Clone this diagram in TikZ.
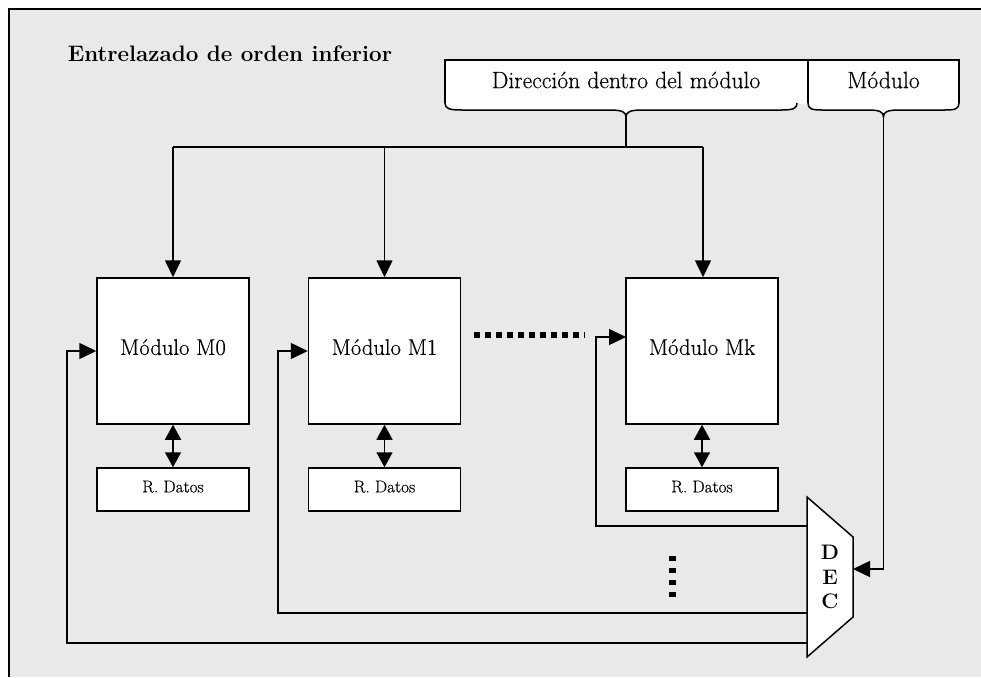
\documentclass[tikz,border=0pt]{standalone}
\usepackage{fontspec}
\usetikzlibrary{arrows.meta,calc}
\definecolor{panel}{HTML}{E9E9E9}
\newfontfamily\plainrm{Latin Modern Roman}[FakeBold=0.35]
\begin{document}
\begin{tikzpicture}[x=1pt,y=-1pt,
  line width=1.5pt,
  arr/.style={-{Triangle[length=17pt,width=16pt]}},
  dbl/.style={{Triangle[length=15pt,width=16pt]}-{Triangle[length=15pt,width=16pt]}},
  modbox/.style={draw,fill=white,minimum width=152pt,minimum height=146pt,inner sep=0pt,
    text depth=8pt,font=\plainrm\fontsize{22.6}{27}\selectfont},
  regbox/.style={draw,fill=white,minimum width=152pt,minimum height=43pt,inner sep=0pt,
    text depth=6pt,font=\plainrm\fontsize{17.2}{20}\selectfont},
  lbl/.style={inner sep=0pt,font=\plainrm\fontsize{23.6}{28}\selectfont},
  sq/.style={line width=6pt,dash pattern=on 6pt off 5pt}]
\useasboundingbox (0,0) rectangle (981,677);
% panel
\fill[white] (0,0) rectangle (981,677);
\fill[panel] (9,9) rectangle (981,677);
\draw[line width=1.3pt] (9,677) -- (9,9) -- (981,9);

% title
\node[anchor=west,inner sep=0pt,font=\fontsize{22.4}{26}\selectfont\bfseries] (title) at (67,54) {Entrelazado de orden inferior};

% address fields with braces
\coordinate (tipA) at (626,117);
\coordinate (tipB) at (883.5,117);
\fill[white] (445,60) rectangle (959,104);
\fill[white] (445,103) .. controls (445,109) and (450,110) .. (462,110) -- (610,110)
  .. controls (622,110) and (626,112) .. (tipA) .. controls (626,112) and (630,110) .. (642,110)
  -- (782,110) .. controls (794,110) and (797,108) .. (797,103) -- cycle;
\fill[white] (808,103) .. controls (808,109) and (812,110) .. (822,110) -- (868,110)
  .. controls (880,110) and (883.5,112) .. (tipB) .. controls (883.5,112) and (887,110) .. (899,110)
  -- (945,110) .. controls (955,110) and (959,109) .. (959,103) -- cycle;
\draw (445,103) -- (445,60) -- (959,60) -- (959,103);
\draw (808,60) -- (808,103);
\draw (445,103) .. controls (445,109) and (450,110) .. (462,110) -- (610,110)
  .. controls (622,110) and (626,112) .. (tipA) .. controls (626,112) and (630,110) .. (642,110)
  -- (782,110) .. controls (794,110) and (797,108) .. (797,103);
\draw (808,103) .. controls (808,109) and (812,110) .. (822,110) -- (868,110)
  .. controls (880,110) and (883.5,112) .. (tipB) .. controls (883.5,112) and (887,110) .. (899,110)
  -- (945,110) .. controls (955,110) and (959,109) .. (959,103);
\node[lbl] (dir) at (626,80) {Dirección dentro del módulo};
\node[lbl] (mod) at (883.5,80) {Módulo};

% memory modules and data registers
\node[modbox] (m0) at (173,351) {Módulo M0};
\node[modbox] (m1) at (384.5,351) {Módulo M1};
\node[modbox] (mk) at (702,351) {Módulo Mk};
\node[regbox] (r0) at (173,489.5) {R. Datos};
\node[regbox] (r1) at (384.5,489.5) {R. Datos};
\node[regbox] (rk) at (702,489.5) {R. Datos};
\draw[dbl] (m0.south) -- (r0.north);
\draw[dbl] (m1.south) -- (r1.north);
\draw[dbl] (mk.south) -- (rk.north);

% address bus
\coordinate (busL) at (173,147);
\coordinate (busR) at (703,147);
\draw (tipA) -- (tipA |- busL);
\draw (busL) -- (busR);
\draw[arr] (busL) -- (m0.north);
\draw[arr] (m1.north |- busL) -- (m1.north);
\draw[arr] (busR) -- (busR |- mk.north);

% decoder
\coordinate (dTL) at (807,497);
\coordinate (dTR) at (853,537);
\coordinate (dBR) at (853,617);
\coordinate (dBL) at (807,657);
\draw[fill=white] (dTL) -- (dTR) -- (dBR) -- (dBL) -- cycle;
\node[align=center,inner sep=0pt,font=\fontsize{21}{24.5}\selectfont\bfseries] (dec) at (830,577) {D\\E\\C};
\draw[arr] (tipB) |- (853,569);

% decoder outputs to module selects
\draw[arr] (807,643) -| (67,351) -- (m0.west);
\draw[arr] (807,613) -| (278,351) -- (m1.west);
\draw[arr] (807,526) -| (596,337) -- (626,337);

% ellipsis marks
\draw[sq] (474,335) -- (585,335);
\draw[line width=7pt,dash pattern=on 5pt off 7pt] (672,556) -- (672,600);
\end{tikzpicture}
\end{document}
